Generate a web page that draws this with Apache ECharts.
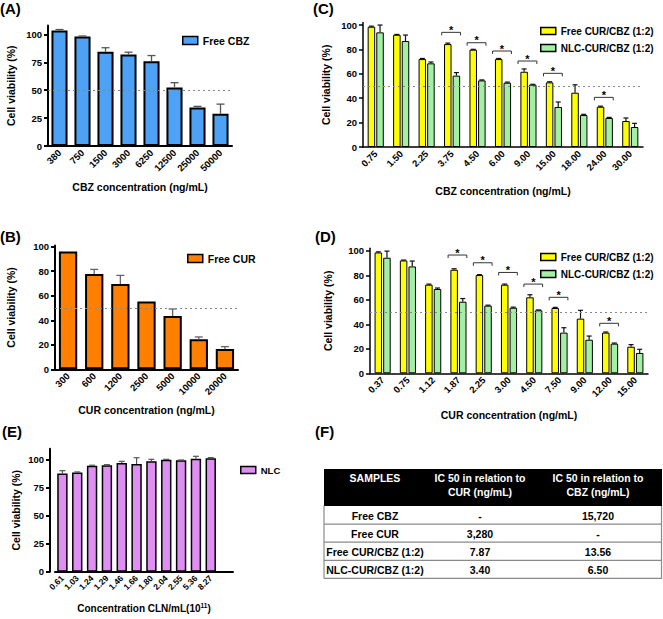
<!DOCTYPE html>
<html><head><meta charset="utf-8">
<script src="https://cdn.jsdelivr.net/npm/echarts@6/dist/echarts.min.js"></script>
<style>html,body{margin:0;padding:0;background:#fff}#c{width:663px;height:619px}</style>
</head><body><div id="c"></div>
<script>
// ---------- DATA ----------
const catA = ['380','750','1500','3000','6250','12500','25000','50000'];
const valA = [103.5, 98, 84.5, 82, 76, 52.5, 34.5, 28.8];
const sdA  = [0.8, 0.5, 3.5, 2, 5, 4.2, 1, 8.7];
const ticksA = [0, 25, 50, 75, 100];

const catB = ['300','600','1200','2500','5000','10000','20000'];
const valB = [96.2, 77.7, 69.6, 55.4, 43.5, 24.5, 16.6];
const sdB  = [0, 3.8, 7, 0, 5.7, 1.9, 1.9];
const ticksB = [0, 20, 40, 60, 80, 100];

const catC = ['0.75','1.50','2.25','3.75','4.50','6.00','9.00','15.00','18.00','24.00','30.00'];
const freeC = [98.6, 92, 72.1, 84.4, 79.8, 72.1, 61.7, 53, 44.5, 33, 21.3];
const freeSdC = [0.5, 0.3, 0.5, 0.8, 0.3, 0.5, 2.3, 0.5, 6.5, 0.5, 2.5];
const nlcC = [94, 86.9, 68.6, 58.5, 54.6, 52.7, 51.1, 32.8, 26.2, 23.8, 16.4];
const nlcSdC = [6, 4.9, 1.1, 2.5, 0.4, 0.5, 0.3, 4.1, 0.6, 0.5, 3];
const sigIdxC = [3, 4, 5, 6, 7, 9];
const sigYC = [94, 85.5, 78.7, 70.5, 60.4, 40.7];

const catD = ['0.37','0.75','1.12','1.87','2.25','3.00','4.50','7.50','9.00','12.00','15.00'];
const freeD = [98.6, 92.1, 72.3, 84.5, 80.2, 72.3, 62, 53.3, 44.6, 33.2, 21.7];
const freeSdD = [0.5, 0.3, 0.5, 0.8, 0.3, 0.5, 2.1, 0.5, 6.8, 0.5, 1.7];
const nlcD = [94.3, 87.2, 68.8, 58.4, 55.2, 53.5, 51.4, 33.2, 27.4, 24.2, 16.6];
const nlcSdD = [5.4, 4.4, 0.8, 2.6, 0.4, 0.5, 0.3, 4, 3, 0.5, 3];
const sigIdxD = [3, 4, 5, 6, 7, 9];
const sigYD = [96.5, 90.2, 82.3, 72.8, 62, 40.8];
const ticksCD = [0, 20, 40, 60, 80, 100];

const catE = ['0.61','1.03','1.24','1.29','1.46','1.66','1.80','2.04','2.55','5.36','8.27'];
const valE = [88, 88.7, 94.9, 95.2, 97.3, 96.4, 98.8, 100.3, 99.7, 101.2, 101.5];
const sdE  = [2.4, 0.6, 0.4, 0.6, 1.5, 5.6, 1.8, 0.3, 0.3, 2.1, 0.6];
const ticksE = [0, 25, 50, 75, 100];

const refLine = 50;

const tableHeader = ['SAMPLES', 'IC 50 in relation to\nCUR (ng/mL)', 'IC 50 in relation to\nCBZ (ng/mL)'];
const tableRows = [
  ['Free CBZ', '-', '15,720'],
  ['Free CUR', '3,280', '-'],
  ['Free CUR/CBZ (1:2)', '7.87', '13.56'],
  ['NLC-CUR/CBZ (1:2)', '3.40', '6.50']
];

// ---------- STYLE / LAYOUT ----------
const F = '"Liberation Sans", Arial, sans-serif';
const nameFree = 'Free CUR/CBZ (1:2)';
const nameNlc = 'NLC-CUR/CBZ (1:2)';
const PAIR_W = 7.5, PAIR_GAP = 0.15;
const pairOff = (PAIR_W * (1 + PAIR_GAP)) / 2;
const LABEL_MARGIN = 5;
const gridLayout = [
  {left: 48, top: 25.4, width: 184, height: 120.6},
  {left: 55, top: 245.5, width: 183, height: 123.8},
  {left: 363, top: 22.6, width: 280, height: 124.4},
  {left: 370, top: 248.3, width: 278, height: 125},
  {left: 55, top: 448.8, width: 178, height: 122.9}
];
const yOffsets = [0, 0, 0, 0, 5];
const yTickSets = [ticksA, ticksB, ticksCD, ticksCD, ticksE];

function yAx(grid, max, gap, lw) {
  const ticks = yTickSets[grid];
  return {
    type: 'value', gridIndex: grid, min: 0, max: max, interval: ticks[1] - ticks[0], offset: yOffsets[grid],
    axisLine: {show: true, onZero: false, lineStyle: {color: '#000', width: lw}},
    axisTick: {show: true, length: 4, customValues: ticks, lineStyle: {color: '#000', width: lw}},
    axisLabel: {show: false},
    splitLine: {show: false},
    name: 'Cell viability (%)', nameLocation: 'middle', nameGap: gap, nameMoveOverlap: false,
    nameTextStyle: {fontSize: 10.5, fontWeight: 'bold', color: '#000', fontFamily: F}
  };
}
function xAx(grid, cats, name, gap, fs, lw, extra) {
  return Object.assign({
    type: 'category', gridIndex: grid, data: cats,
    axisLine: {onZero: false, lineStyle: {color: '#000', width: lw}},
    axisTick: {alignWithLabel: true, length: 4, lineStyle: {color: '#000', width: lw},
      interval: function (i, v) { return v !== ''; }},
    axisLabel: {rotate: 45, interval: 0, fontSize: fs, fontWeight: 'bold', color: '#000', margin: 5, fontFamily: F},
    name: name, nameLocation: 'middle', nameGap: gap, nameMoveOverlap: false,
    nameTextStyle: {fontSize: 10.5, fontWeight: 'bold', color: '#000', fontFamily: F}
  }, extra || {});
}

function errRender(offset, capHalf, color, lw) {
  return function (params, api) {
    const i = api.value(0), v = api.value(1), sd = api.value(2);
    if (!sd) return null;
    const p0 = api.coord([i, v]);
    const p1 = api.coord([i, v + sd]);
    const x = p0[0] + offset;
    return {type: 'group', children: [
      {type: 'line', shape: {x1: x, y1: p0[1], x2: x, y2: p1[1]}, style: {stroke: color, lineWidth: lw}},
      {type: 'line', shape: {x1: x - capHalf, y1: p1[1], x2: x + capHalf, y2: p1[1]}, style: {stroke: color, lineWidth: lw}}
    ]};
  };
}
function bracketRender(params, api) {
  const i = api.value(0), y = api.value(1);
  const p = api.coord([i, y]);
  const bw = api.size([1, 0])[0];
  const hw = bw * 0.37;
  const cx = p[0] - 1;
  return {type: 'group', children: [
    {type: 'polyline', shape: {points: [[cx - hw, p[1] + 3], [cx - hw, p[1]], [cx + hw, p[1]], [cx + hw, p[1] + 3]]},
      style: {stroke: '#333', lineWidth: 1, fill: null}},
    {type: 'text', style: {text: '*', x: cx, y: p[1] - 2.5, align: 'center', verticalAlign: 'middle',
      font: 'bold 11px ' + F, fill: '#000'}}
  ]};
}
function refSeries(ax) {
  return {type: 'line', xAxisIndex: ax, yAxisIndex: ax, data: [], z: 1, silent: true,
    markLine: {silent: true, symbol: 'none', label: {show: false},
      lineStyle: {type: [2, 3], color: '#888', width: 1}, data: [{yAxis: refLine}]}};
}
function errSeries(ax, vals, sds, off, cap, color, lw) {
  return {type: 'custom', xAxisIndex: ax, yAxisIndex: ax, z: 3, silent: true,
    renderItem: errRender(off, cap, color, lw), encode: {x: 0, y: 1},
    data: vals.map(function (v, i) { return [i, v, sds[i]]; })};
}
function sigSeries(ax, idx, ys) {
  return {type: 'custom', xAxisIndex: ax, yAxisIndex: ax, z: 4, silent: true,
    renderItem: bracketRender, encode: {x: 0, y: 1},
    data: idx.map(function (k, j) { return [k, ys[j]]; })};
}

// table graphics
const colEdges = [324, 426, 534, 662];
const headTop = 469, headBot = 506, rowH = 18.1;
const tableGraphics = [];
tableGraphics.push({type: 'rect', shape: {x: colEdges[0], y: headTop, width: colEdges[3] - colEdges[0], height: headBot - headTop}, style: {fill: '#000'}});
tableHeader.forEach(function (t, c) {
  tableGraphics.push({type: 'text', style: {text: t, x: (colEdges[c] + colEdges[c + 1]) / 2, y: headTop + 1.5,
    align: 'center', verticalAlign: 'top', lineHeight: 14.6, font: 'bold 10.5px ' + F, fill: '#fff'}});
});
tableRows.forEach(function (row, r) {
  const y0 = headBot + r * rowH;
  tableGraphics.push({type: 'line', shape: {x1: colEdges[0], y1: y0 + rowH, x2: colEdges[3], y2: y0 + rowH}, style: {stroke: '#8a8a8a', lineWidth: 1.2}});
  row.forEach(function (t, c) {
    tableGraphics.push({type: 'text', style: {text: t, x: (colEdges[c] + colEdges[c + 1]) / 2, y: y0 + rowH / 2 + 0.5,
      align: 'center', verticalAlign: 'middle', font: 'bold 10.5px ' + F, fill: '#000'}});
  });
});
const tableBottom = headBot + tableRows.length * rowH;
tableGraphics.push({type: 'line', shape: {x1: colEdges[0], y1: headBot, x2: colEdges[0], y2: tableBottom}, style: {stroke: '#8a8a8a', lineWidth: 1.2}});
tableGraphics.push({type: 'line', shape: {x1: colEdges[3] - 0.5, y1: headBot, x2: colEdges[3] - 0.5, y2: tableBottom}, style: {stroke: '#8a8a8a', lineWidth: 1.2}});

const panelLabels = [['(A)', 0, 1], ['(C)', 313, 1], ['(B)', 0, 229], ['(D)', 315, 229], ['(E)', 2, 424], ['(F)', 315, 424]];
const labelGraphics = panelLabels.map(function (l) {
  return {type: 'text', style: {text: l[0], x: l[1], y: l[2], font: 'bold 15px ' + F, fill: '#000'}};
});

const legendBase = {icon: 'rect', itemWidth: 15, itemHeight: 8, itemGap: 7, selectedMode: false,
  itemStyle: {borderColor: '#000', borderWidth: 1.5},
  textStyle: {fontWeight: 'bold', fontSize: 10.5, color: '#000', fontFamily: F}};
function lg(extra) { return Object.assign({}, legendBase, extra); }

const option = {
  animation: false,
  backgroundColor: '#fff',
  grid: gridLayout.map(function (g) { return Object.assign({outerBoundsMode: 'none'}, g); }),
  xAxis: [
    xAx(0, catA, 'CBZ concentration (ng/mL)', 35, 9.5, 2),
    xAx(1, catB, 'CUR concentration (ng/mL)', 35, 9.5, 2),
    xAx(2, catC, 'CBZ concentration (ng/mL)', 38, 9.5, 1.5),
    xAx(3, catD, 'CUR concentration (ng/mL)', 36, 9.5, 1.5),
    xAx(4, catE.concat(['']), '{a|Concentration CLN/mL(10}{s|11}{a|)}', 30, 8.5, 2, {
      nameTextStyle: {rich: {
        a: {fontSize: 10, fontWeight: 'bold', color: '#000', fontFamily: F, lineHeight: 14},
        s: {fontSize: 6.5, fontWeight: 'bold', color: '#000', fontFamily: F, lineHeight: 14, verticalAlign: 'top'}
      }}
    })
  ],
  yAxis: [
    yAx(0, 108, 32, 2),
    yAx(1, 101, 39, 2),
    yAx(2, 102, 32, 1.5),
    yAx(3, 102, 37, 1.5),
    yAx(4, 110, 29, 2)
  ],
  legend: [
    lg({data: ['Free CBZ'], left: 177, top: 30}),
    lg({data: ['Free CUR'], left: 182, top: 248}),
    lg({data: [nameFree, nameNlc], left: 535, top: 21, orient: 'vertical', itemHeight: 7, itemGap: 7,
        textStyle: {fontWeight: 'bold', fontSize: 10, color: '#000', fontFamily: F}}),
    lg({data: [nameFree, nameNlc], left: 535, top: 247, orient: 'vertical', itemHeight: 7, itemGap: 7,
        textStyle: {fontWeight: 'bold', fontSize: 10, color: '#000', fontFamily: F}}),
    lg({data: ['NLC'], left: 235, top: 460, itemHeight: 7, textStyle: {fontWeight: 'bold', fontSize: 9.5, color: '#000', fontFamily: F}})
  ],
  series: [
    refSeries(0), refSeries(1), refSeries(2), refSeries(3),
    {name: 'Free CBZ', type: 'bar', xAxisIndex: 0, yAxisIndex: 0, data: valA, barWidth: '70%',
      itemStyle: {color: '#4da2f5', borderColor: '#000', borderWidth: 2}},
    errSeries(0, valA, sdA, 0, 4, '#555', 1.3),
    {name: 'Free CUR', type: 'bar', xAxisIndex: 1, yAxisIndex: 1, data: valB, barWidth: '70%',
      itemStyle: {color: '#ff8000', borderColor: '#000', borderWidth: 2}},
    errSeries(1, valB, sdB, 0, 4, '#666', 1.3),
    {name: nameFree, type: 'bar', xAxisIndex: 2, yAxisIndex: 2, data: freeC, barWidth: PAIR_W, barGap: '15%',
      itemStyle: {color: '#ffff00', borderColor: '#000', borderWidth: 1}},
    {name: nameNlc, type: 'bar', xAxisIndex: 2, yAxisIndex: 2, data: nlcC, barWidth: PAIR_W, barGap: '15%',
      itemStyle: {color: '#a3f0a3', borderColor: '#000', borderWidth: 1}},
    errSeries(2, freeC, freeSdC, -pairOff, 2.5, '#111', 1.2),
    errSeries(2, nlcC, nlcSdC, pairOff, 2.5, '#111', 1.2),
    sigSeries(2, sigIdxC, sigYC),
    {name: nameFree, type: 'bar', xAxisIndex: 3, yAxisIndex: 3, data: freeD, barWidth: PAIR_W, barGap: '15%',
      itemStyle: {color: '#ffff00', borderColor: '#000', borderWidth: 1}},
    {name: nameNlc, type: 'bar', xAxisIndex: 3, yAxisIndex: 3, data: nlcD, barWidth: PAIR_W, barGap: '15%',
      itemStyle: {color: '#a3f0a3', borderColor: '#000', borderWidth: 1}},
    errSeries(3, freeD, freeSdD, -pairOff, 2.5, '#111', 1.2),
    errSeries(3, nlcD, nlcSdD, pairOff, 2.5, '#111', 1.2),
    sigSeries(3, sigIdxD, sigYD),
    {name: 'NLC', type: 'bar', xAxisIndex: 4, yAxisIndex: 4, data: valE, barWidth: '70%',
      itemStyle: {color: '#df8ff2', borderColor: '#000', borderWidth: 1.5}},
    errSeries(4, valE, sdE, 0, 3, '#555', 1.2)
  ],
  graphic: labelGraphics.concat(tableGraphics)
};

const chart = echarts.init(document.getElementById('c'), null, {renderer: 'svg', width: 663, height: 619});
chart.setOption(option);

// y tick labels placed through each y scale (the library's own label culling drops the corner label)
const yLabelGraphics = [];
gridLayout.forEach(function (g, i) {
  yTickSets[i].forEach(function (t) {
    const y = chart.convertToPixel({yAxisIndex: i}, t);
    yLabelGraphics.push({type: 'text', style: {text: String(t), x: g.left - yOffsets[i] - LABEL_MARGIN - 1, y: y,
      align: 'right', verticalAlign: 'middle', font: 'bold 9.5px ' + F, fill: '#000'}});
  });
});
chart.setOption({graphic: labelGraphics.concat(tableGraphics).concat(yLabelGraphics)});
</script></body></html>
